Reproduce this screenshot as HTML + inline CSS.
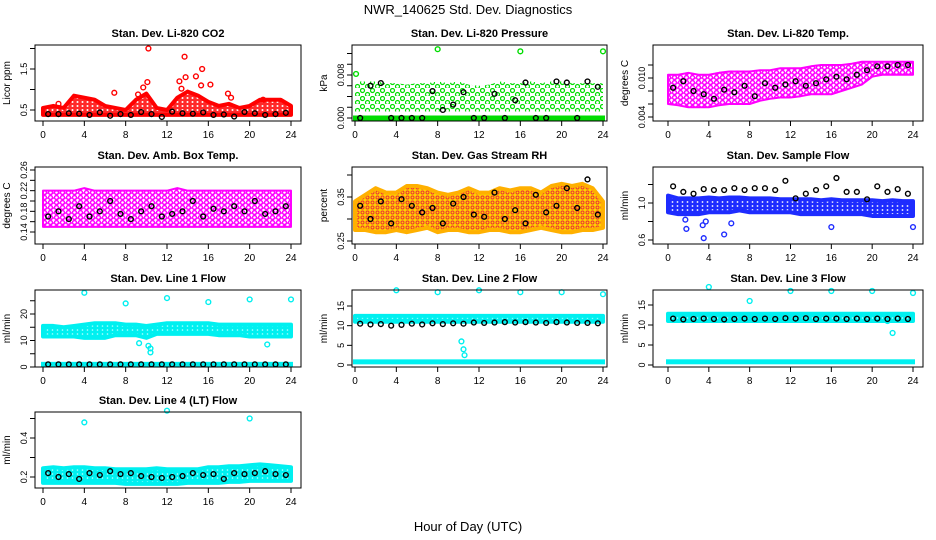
<!DOCTYPE html>
<html><head><meta charset="utf-8"><style>
body{margin:0;background:#fff}
svg{display:block;font-family:"Liberation Sans",sans-serif}
</style></head><body>
<svg id="c" width="936" height="540" xmlns="http://www.w3.org/2000/svg">
<defs>
<pattern id="p-red" width="5" height="4" patternUnits="userSpaceOnUse"><rect width="5" height="4" fill="#ff2a2a"/><circle cx="2.5" cy="2" r="1" fill="#fff"/></pattern>
<pattern id="p-green" width="10" height="8" patternUnits="userSpaceOnUse"><circle cx="2.5" cy="2.5" r="2" fill="none" stroke="#00dd00" stroke-width="1.2"/><circle cx="7.5" cy="6.5" r="2" fill="none" stroke="#00dd00" stroke-width="1.2"/></pattern>
<pattern id="p-mag" width="6" height="5" patternUnits="userSpaceOnUse"><circle cx="2.5" cy="2.5" r="2" fill="none" stroke="#ff00ff" stroke-width="1.4"/><circle cx="5.5" cy="5" r="2" fill="none" stroke="#ff00ff" stroke-width="1.4"/></pattern>
<pattern id="p-rh" width="5" height="5" patternUnits="userSpaceOnUse"><rect width="5" height="5" fill="#ffd000"/><circle cx="2.5" cy="2.5" r="1.5" fill="none" stroke="#e33" stroke-width="1"/></pattern>
<pattern id="p-blue" width="5" height="4" patternUnits="userSpaceOnUse"><rect width="5" height="4" fill="#1e2cff"/><circle cx="2.5" cy="2" r="0.9" fill="#fff"/></pattern>
<pattern id="p-cyan" width="5" height="4" patternUnits="userSpaceOnUse"><rect width="5" height="4" fill="#00f0f0"/><circle cx="2.5" cy="2" r="0.8" fill="#bff"/></pattern>
</defs>
<text x="468" y="14" text-anchor="middle" font-size="13">NWR_140625  Std. Dev. Diagnostics</text>
<text x="468" y="531" text-anchor="middle" font-size="13">Hour of Day (UTC)</text>
</svg>
<script>
const hours=[0,1,2,3,4,5,6,7,8,9,10,11,12,13,14,15,16,17,18,19,20,21,22,23,24];
const blackHours=[0.5,1.5,2.5,3.5,4.5,5.5,6.5,7.5,8.5,9.5,10.5,11.5,12.5,13.5,14.5,15.5,16.5,17.5,18.5,19.5,20.5,21.5,22.5,23.5];
const xTicks=[0,4,8,12,16,20,24];
const co2Lo=[0.38,0.38,0.38,0.38,0.38,0.38,0.38,0.38,0.38,0.38,0.38,0.38,0.38,0.38,0.38,0.38,0.38,0.38,0.38,0.38,0.38,0.38,0.38,0.38,0.38];
const co2Hi=[0.55,0.6,0.55,0.85,0.8,0.75,0.6,0.55,0.5,0.75,0.9,0.55,0.5,0.8,0.95,0.85,0.7,0.6,0.65,0.55,0.6,0.75,0.75,0.75,0.6];
const co2OutX=[10.2,13.7,15.4,13.8,14.8,13.2,10.1,15.3,16.2,13.4,9.7,9.2,6.9,17.9,1.5,18.2,21.3];
const co2OutY=[2.0,1.8,1.5,1.3,1.32,1.2,1.18,1.1,1.12,1.02,1.05,0.88,0.92,0.9,0.65,0.8,0.75];
const co2Black=[0.4,0.4,0.42,0.41,0.38,0.44,0.36,0.4,0.38,0.45,0.4,0.33,0.46,0.42,0.41,0.44,0.38,0.39,0.34,0.45,0.42,0.38,0.4,0.43];
const prLo=[0.0012,0.0012,0.0012,0.0012,0.0012,0.0012,0.0012,0.0012,0.0012,0.0012,0.0012,0.0012,0.0012,0.0012,0.0012,0.0012,0.0012,0.0012,0.0012,0.0012,0.0012,0.0012,0.0012,0.0012,0.0012];
const prHi=[0.0068,0.0068,0.0068,0.0065,0.0065,0.0062,0.0065,0.0065,0.0068,0.0065,0.0068,0.0062,0.006,0.0062,0.0068,0.0065,0.0065,0.0068,0.0065,0.0068,0.0068,0.0065,0.0065,0.0065,0.0065];
const prOutX=[8,16,24,0.1];
const prOutY=[0.0128,0.0124,0.0124,0.0082];
const prBlack=[0,0.006,0.0065,0,0,0,0,0.005,0.0015,0.0025,0.0048,0,0,0.0045,0,0.0033,0.0066,0,0,0.0068,0.0066,0,0.0068,0.0058];
const tLo=[0.006,0.0058,0.0055,0.0055,0.0055,0.0058,0.006,0.006,0.006,0.0065,0.0068,0.007,0.007,0.0072,0.0075,0.0075,0.0075,0.008,0.0085,0.009,0.0102,0.0105,0.0105,0.0105,0.0105];
const tHi=[0.0105,0.0105,0.0108,0.0105,0.0105,0.0108,0.011,0.011,0.011,0.0112,0.0112,0.0115,0.0115,0.0115,0.0118,0.012,0.012,0.012,0.0122,0.0125,0.0125,0.0125,0.0125,0.0125,0.0125];
const tBlack=[0.0085,0.0095,0.008,0.0075,0.0068,0.0082,0.0078,0.0088,0.0072,0.0092,0.0085,0.009,0.0095,0.0088,0.0092,0.0098,0.0102,0.0098,0.0105,0.0112,0.0118,0.0118,0.012,0.012];
const aLo=[0.15,0.15,0.15,0.15,0.15,0.15,0.15,0.15,0.15,0.15,0.15,0.15,0.15,0.15,0.15,0.15,0.15,0.15,0.15,0.15,0.15,0.15,0.15,0.15,0.15];
const aHi=[0.22,0.22,0.22,0.22,0.225,0.22,0.22,0.22,0.22,0.22,0.22,0.22,0.22,0.225,0.22,0.22,0.22,0.22,0.22,0.22,0.22,0.22,0.22,0.22,0.22];
const aBlack=[0.17,0.18,0.165,0.19,0.17,0.18,0.2,0.175,0.165,0.18,0.19,0.17,0.175,0.18,0.2,0.17,0.185,0.18,0.19,0.18,0.2,0.175,0.18,0.19];
const rhLo=[0.275,0.275,0.27,0.27,0.275,0.27,0.275,0.28,0.27,0.275,0.275,0.27,0.27,0.275,0.275,0.27,0.27,0.275,0.28,0.275,0.27,0.27,0.275,0.275,0.28];
const rhHi=[0.34,0.355,0.37,0.36,0.36,0.375,0.375,0.37,0.36,0.355,0.36,0.37,0.36,0.36,0.37,0.365,0.37,0.37,0.36,0.375,0.38,0.375,0.38,0.37,0.34];
const rhBlack=[0.33,0.3,0.34,0.29,0.345,0.33,0.315,0.325,0.29,0.335,0.35,0.31,0.305,0.36,0.3,0.32,0.29,0.355,0.315,0.33,0.37,0.325,0.39,0.31];
const sfLo=[0.9,0.88,0.88,0.88,0.9,0.9,0.9,0.92,0.9,0.9,0.9,0.9,0.9,0.88,0.88,0.88,0.88,0.88,0.88,0.88,0.86,0.86,0.86,0.86,0.86];
const sfHi=[1.08,1.05,1.05,1.05,1.06,1.05,1.06,1.06,1.05,1.05,1.05,1.04,1.04,1.04,1.04,1.03,1.04,1.03,1.03,1.03,1.03,1.02,1.03,1.02,1.02];
const sfOutX=[3.5,5.5,1.8,6.2,3.4,16,24,1.7,3.7];
const sfOutY=[0.62,0.66,0.72,0.78,0.76,0.74,0.74,0.82,0.8];
const sfBlack=[1.18,1.12,1.1,1.15,1.14,1.14,1.16,1.14,1.16,1.16,1.14,1.24,1.05,1.1,1.14,1.18,1.27,1.12,1.12,1.04,1.18,1.12,1.15,1.1];
const l1Lo=[11.5,11.5,11.5,11.5,11,11,11,12,12,12,11,12.5,12.5,12.5,12.5,12.5,12.5,12,12,12,11.5,11.5,11.5,11.5,11.5];
const l1Hi=[15.5,15.5,15,15.5,16,16.5,16.5,16.5,16,16,15.5,16,16.5,16.5,16.5,16.5,16.5,16,16,16,16,16,16,16,16];
const l1OutX=[4,8,12,16,20,24,9.3,10.2,10.4,10.4,21.7];
const l1OutY=[28,24,26,24.5,25.5,25.5,9,8,7,5.5,8.5];
const l1Black=[1,1,1,1,1,1,1,1,1,1,1,1,1,1,1,1,1,1,1,1,1,1,1,1];
const l2Lo=[11,11,11,11,11,11,11,11,11,11,11,11,11,11,11,11,11,11,11,11,11,11,11,11,11];
const l2Hi=[12.5,12.5,12.5,12.5,12.5,12.5,12.5,12.5,12.5,12.5,12.5,12.5,12.5,12.5,12.5,12.5,12.5,12.5,12.5,12.5,12.5,12.5,12.5,12.5,12.5];
const l2OutX=[4,8,12,16,20,24,10.3,10.5,10.6];
const l2OutY=[19,18.5,19,18.5,18.5,18,6,4,2.5];
const l2Black=[10.5,10.3,10.4,10,10.2,10.5,10.3,10.6,10.4,10.6,10.5,10.8,10.7,10.8,10.9,10.8,10.9,10.8,10.7,10.9,10.8,10.7,10.7,10.6];
const l3Lo=[11,11,11,11,11,11,11,11,11,11,11,11,11,11,11,11,11,11,11,11,11,11,11,11,11];
const l3Hi=[12.8,12.8,12.8,12.8,12.8,12.8,12.8,12.8,12.8,12.8,12.8,12.8,12.8,12.8,12.8,12.8,12.8,12.8,12.8,12.8,12.8,12.8,12.8,12.8,12.8];
const l3OutX=[4,8,12,16,20,24,21.5,22];
const l3OutY=[19.5,16,18.5,18.5,18.5,18,11,8];
const l3Black=[11.6,11.4,11.5,11.6,11.5,11.4,11.5,11.6,11.5,11.6,11.5,11.7,11.6,11.7,11.5,11.6,11.6,11.5,11.6,11.5,11.6,11.5,11.6,11.5];
const l4Lo=[0.17,0.17,0.17,0.17,0.17,0.17,0.17,0.17,0.165,0.165,0.165,0.165,0.165,0.165,0.17,0.17,0.17,0.17,0.175,0.175,0.18,0.18,0.18,0.18,0.18];
const l4Hi=[0.245,0.25,0.245,0.25,0.25,0.245,0.245,0.24,0.24,0.24,0.24,0.245,0.24,0.24,0.24,0.24,0.25,0.25,0.255,0.255,0.26,0.265,0.26,0.255,0.25];
const l4OutX=[4,12,20];
const l4OutY=[0.48,0.54,0.5];
const l4Black=[0.22,0.2,0.215,0.19,0.22,0.21,0.23,0.215,0.22,0.205,0.2,0.195,0.2,0.205,0.22,0.21,0.215,0.19,0.22,0.215,0.22,0.23,0.215,0.21];
const ringCol={red:'#ff0000',green:'#00dd00',mag:'#ff00ff',rh:'#ffb000',blue:'#1e2cff',cyan:'#00f0f0'};
const strokeW={red:4,green:0,mag:2,rh:4,blue:4,cyan:4};
const panels=[
{name:'co2',title:'Stan. Dev. Li-820 CO2',yl:'Licor ppm',c:0,r:0,v1:0.5,p1:110,v2:1.5,p2:69,ticks:[0.5,1,1.5,2],labels:{'0.5':'0.5','1.5':'1.5'},lo:co2Lo,hi:co2Hi,ox:co2OutX,oy:co2OutY,bk:co2Black,col:'red'},
{name:'pressure',title:'Stan. Dev. Li-820 Pressure',yl:'kPa',c:1,r:0,v1:0,p1:118,v2:0.008,p2:75,ticks:[0,0.002,0.004,0.006,0.008,0.01,0.012],labels:{'0':'0.000','0.008':'0.008'},lo:prLo,hi:prHi,ox:prOutX,oy:prOutY,bk:prBlack,col:'green',zero:true},
{name:'temp',title:'Stan. Dev. Li-820 Temp.',yl:'degrees C',c:2,r:0,v1:0.004,p1:117,v2:0.01,p2:78,ticks:[0.004,0.006,0.008,0.01,0.012],labels:{'0.004':'0.004','0.01':'0.010'},lo:tLo,hi:tHi,ox:[],oy:[],bk:tBlack,col:'mag'},
{name:'amb-box',title:'Stan. Dev. Amb. Box Temp.',yl:'degrees C',c:0,r:1,v1:0.14,p1:232,v2:0.26,p2:170,ticks:[0.14,0.16,0.18,0.2,0.22,0.24,0.26],labels:{'0.14':'0.14','0.18':'0.18','0.22':'0.22','0.26':'0.26'},lo:aLo,hi:aHi,ox:[],oy:[],bk:aBlack,col:'mag'},
{name:'gas-rh',title:'Stan. Dev. Gas Stream RH',yl:'percent',c:1,r:1,v1:0.25,p1:241,v2:0.35,p2:197,ticks:[0.25,0.3,0.35,0.4],labels:{'0.25':'0.25','0.35':'0.35'},lo:rhLo,hi:rhHi,ox:[],oy:[],bk:rhBlack,col:'rh'},
{name:'sample-flow',title:'Stan. Dev. Sample Flow',yl:'ml/min',c:2,r:1,v1:0.6,p1:240,v2:1.0,p2:203,ticks:[0.6,0.8,1.0,1.2],labels:{'0.6':'0.6','1':'1.0'},lo:sfLo,hi:sfHi,ox:sfOutX,oy:sfOutY,bk:sfBlack,col:'blue'},
{name:'line1',title:'Stan. Dev. Line 1 Flow',yl:'ml/min',c:0,r:2,v1:0,p1:367,v2:20,p2:314,ticks:[0,5,10,15,20,25],labels:{'0':'0','10':'10','20':'20'},lo:l1Lo,hi:l1Hi,ox:l1OutX,oy:l1OutY,bk:l1Black,col:'cyan',base:1},
{name:'line2',title:'Stan. Dev. Line 2 Flow',yl:'ml/min',c:1,r:2,v1:0,p1:365,v2:15,p2:306,ticks:[0,5,10,15],labels:{'0':'0','5':'5','10':'10','15':'15'},lo:l2Lo,hi:l2Hi,ox:l2OutX,oy:l2OutY,bk:l2Black,col:'cyan',base:0.8},
{name:'line3',title:'Stan. Dev. Line 3 Flow',yl:'ml/min',c:2,r:2,v1:0,p1:365,v2:15,p2:305,ticks:[0,5,10,15],labels:{'0':'0','5':'5','10':'10','15':'15'},lo:l3Lo,hi:l3Hi,ox:l3OutX,oy:l3OutY,bk:l3Black,col:'cyan',base:0.8},
{name:'line4',title:'Stan. Dev. Line 4 (LT) Flow',yl:'ml/min',c:0,r:3,v1:0.2,p1:477,v2:0.4,p2:438,ticks:[0.2,0.3,0.4,0.5],labels:{'0.2':'0.2','0.4':'0.4'},lo:l4Lo,hi:l4Hi,ox:l4OutX,oy:l4OutY,bk:l4Black,col:'cyan'}
];
const boxL=[35,352,653],boxR=[301,607,923],x0=[43,355,668],x24=[291,603,913];
const boxT=[45,167,290,412],boxB=[121,244,367,488];
const svg=document.getElementById('c');
const NS='http://www.w3.org/2000/svg';
function mk(tag,attrs,parent){const e=document.createElementNS(NS,tag);for(const k in attrs)e.setAttribute(k,attrs[k]);(parent||svg).appendChild(e);return e;}
function ring(g,x,y,color,name){const e=mk('circle',{cx:x,cy:y,r:2.4,fill:'none',stroke:color,'stroke-width':1.4},g);

}
panels.forEach(p=>{
 const g=mk('g',{});
 
 
 const L=boxL[p.c],R=boxR[p.c],T=boxT[p.r],B=boxB[p.r];
 const xs=h=>x0[p.c]+(x24[p.c]-x0[p.c])*h/24;
 const ys=v=>p.p1+(v-p.v1)*(p.p2-p.p1)/(p.v2-p.v1);
 const t=mk('text',{x:(L+R)/2,y:T-8,'text-anchor':'middle','font-size':11,'font-weight':'bold'},g);t.textContent=p.title;
 
 
 const d=mk('g',{},g);
 let pts=hours.map((h,i)=>xs(h)+','+ys(p.hi[i]));
 pts=pts.concat(hours.slice().reverse().map((h,j)=>{const i=hours.length-1-j;return xs(h)+','+ys(p.lo[i]);}));
 const band=mk('polygon',{points:pts.join(' '),fill:'url(#p-'+p.col+')',stroke:ringCol[p.col],'stroke-width':strokeW[p.col],'stroke-linejoin':'round'},d);
 
 
 if(p.zero){const z=mk('rect',{x:xs(0)-2,y:ys(0)-2.5,width:xs(24)-xs(0)+4,height:5,fill:'#00dd00'},d);
  
  }
 if(p.base!==undefined){const z=mk('rect',{x:xs(0)-2,y:ys(p.base)-2.5,width:xs(24)-xs(0)+4,height:5,fill:'#00f0f0'},d);
  
  }
 p.ox.forEach((x,i)=>ring(d,xs(x),ys(p.oy[i]),ringCol[p.col],'outlier-point'));
 p.bk.forEach((v,i)=>ring(d,xs(blackHours[i]),ys(v),'#000','black-point'));
 const box=mk('rect',{x:L,y:T,width:R-L,height:B-T,fill:'none',stroke:'#000','stroke-width':1},g);
 
 
 mk('line',{x1:xs(0),x2:xs(24),y1:B,y2:B,stroke:'#000'},g);
 xTicks.forEach(h=>{mk('line',{x1:xs(h),x2:xs(h),y1:B,y2:B+5,stroke:'#000'},g);
  const tl=mk('text',{x:xs(h),y:B+17,'text-anchor':'middle','font-size':10},g);tl.textContent=h;
  
  });
 const tk=p.ticks.filter(v=>ys(v)>=T-1&&ys(v)<=B+1);
 mk('line',{x1:L,x2:L,y1:ys(tk[0]),y2:ys(tk[tk.length-1]),stroke:'#000'},g);
 tk.forEach(v=>{const y=ys(v);mk('line',{x1:L-5,x2:L,y1:y,y2:y,stroke:'#000'},g);
  const lab=p.labels[String(v)];
  if(lab){const tl=mk('text',{x:0,y:0,'text-anchor':'middle','font-size':9,transform:`translate(${L-8},${y}) rotate(-90)`},g);tl.textContent=lab;
  
  }});
 const yl=mk('text',{x:0,y:0,'text-anchor':'middle','font-size':10,transform:`translate(${L-25},${(T+B)/2}) rotate(-90)`},g);yl.textContent=p.yl;
 
 
});
</script>
</body></html>
